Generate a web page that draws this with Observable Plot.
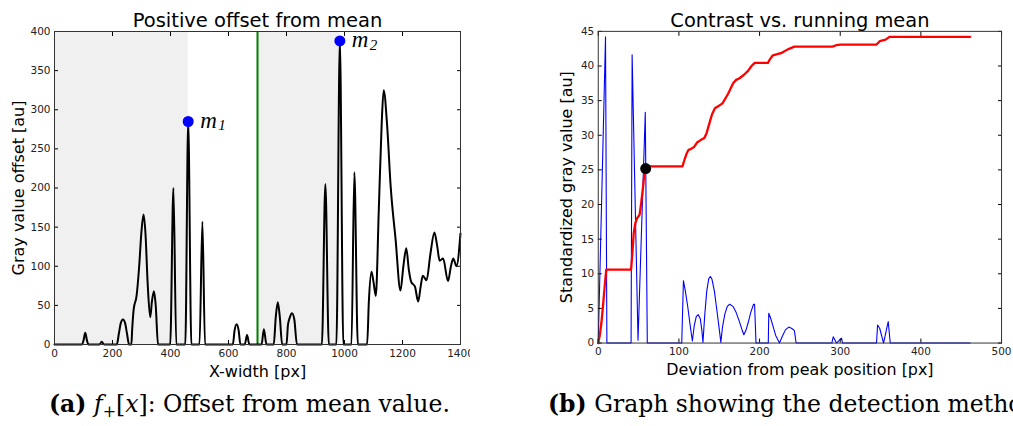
<!DOCTYPE html>
<html><head><meta charset="utf-8">
<script src="https://cdn.jsdelivr.net/npm/d3@7"></script>
<script src="https://cdn.jsdelivr.net/npm/@observablehq/plot@0.6"></script>
<style>
body{margin:0;background:#fff;width:1013px;height:426px;overflow:hidden;position:relative;font-family:"DejaVu Sans";}
#a{position:absolute;left:0;top:0;width:470px;height:392px;overflow:hidden}
#b{position:absolute;left:540px;top:0;width:473px;height:392px;overflow:hidden}
.cap{position:absolute;top:390px;font-family:"DejaVu Serif";font-size:23.5px;white-space:nowrap;color:#000}
.cap sub{font-size:16px;vertical-align:-5px;line-height:0}
</style></head><body>
<div id="a"></div><div id="b"></div>
<div class="cap" style="left:49px"><b>(a)</b> <i>f</i><sub>+</sub>[<i>x</i>]: Offset from mean value.</div>
<div class="cap" style="left:548px"><b>(b)</b> Graph showing the detection method.</div>
<script>
// ---------- Panel (a) data ----------
const offsetX = [0,95,100,106,112,117,155,163,171,215,222,229,236,243,250,257,265,268,273,283,292,300,307,314,321,330,336,343,349,357,399,410,420,451,461,472,500,510,519,615,621,628,635,641,656,664,672,714,722,731,756,763,770,777,785,800,805,811,819,827,836,922,934,946,972,984,996,1024,1034,1046,1078,1084,1093,1100,1108,1118,1128,1135,1147,1159,1176,1193,1203,1213,1222,1230,1243,1254,1263,1270,1283,1296,1310,1320,1328,1340,1357,1367,1375,1386,1400];
const offsetY = [0,0,5,15,5,0,0,3.5,0,0,14,28,32,28,14,0,0,20,45,62,100,145,166,140,80,35,55,68,50,0,0,200,0,0,285,0,0,157,0,0,18,26,18,0,0,12,0,0,19.6,0,0,35,54,35,0,0,25,34,40,32,0,0,205,0,0,388,0,0,220,0,0,55,93,80,62,169,280,325,280,203,135,69,100,123,95,80,74,55,75,88,82,115,143,125,107,110,81,100,110,100,142];
const shadeStart = [0, 700];
const shadeEnd = [461, 984];
const thresholdX = [700];
const markerX = [461, 984];
const markerY = [285, 388];
const markerSub = ["1", "2"];
const aXTicks = [0,200,400,600,800,1000,1200,1400];
const aYTicks = [0,50,100,150,200,250,300,350,400];

// ---------- Panel (b) data ----------
const contrastX = [0,9,10.7,40.7,42,49.3,58.3,60.8,103.5,105.6,108,111,114,116.7,119,121.5,124,126.5,128.5,129.8,132,134.5,137,139,141,144,147,150,152,154,157,160,163,167,171,175,178,180.5,183,186,189,192.5,193.8,195.6,210.8,211.4,214,217,220,224.7,228,232,236.2,240,243.2,245.3,289.6,291.3,295.4,301.6,302.8,345,346.3,349,353.7,359.5,362,461];
const contrastY = [0,44.2,0,0,41.6,0.4,33.3,0,0,9.0,7.5,5.2,2.5,0.3,2.5,3.8,4.1,3.5,1.8,0.1,4,7.5,9.3,9.6,9.2,7.5,4.8,2,0.1,2.3,4.2,5.3,5.6,5.3,4.4,3.1,2,1.2,1.8,3,4.4,5.6,5.6,0,0,4.3,3.5,2.3,1.1,0,0.9,1.9,2.3,2.1,1.8,0,0,0.9,0,0.7,0,0,2.6,2.1,0,3.1,0,0];
const meanX = [0,2,4,6,8,9.9,40.7,42,44,46,48,50,51.4,53,54.2,56,57.5,59,104.4,107,109.7,112,114.6,118.7,122.8,127,131.5,134.3,138.5,141,144.6,148.7,154,161,167.2,171,174.6,180.4,185.7,190,194,210.4,213,216.5,221.8,227.6,235,243.2,290.5,295,300.7,345,349.2,356.2,361,461];
const meanY = [0,1.2,3,5.5,8.2,10.6,10.6,12.5,15.9,17.3,18,18.3,18.6,20,21.2,23,25,25.5,25.5,26.5,27.4,27.9,28.0,28.3,29.0,29.3,29.6,30.3,32,33,33.9,34.2,34.6,36,37.5,38,38.2,38.7,39.3,40,40.45,40.45,41,41.55,41.7,41.9,42.4,42.8,42.8,43,43.1,43.1,43.6,43.8,44.2,44.2];
const detectX = [58.8];
const detectY = [25.2];
const bXTicks = [0,100,200,300,400,500];
const bYTicks = [0,5,10,15,20,25,30,35,40,45];

function zip(xs, ys) { return xs.map((x, i) => ({x, y: ys[i]})); }

function axesMarks(xt, yt) {
  const fmt = d => String(d);
  return [
    Plot.axisX(xt, {anchor: "bottom", tickSize: 0, tickPadding: 5, label: null, tickFormat: fmt}),
    Plot.axisX(xt, {anchor: "bottom", tickSize: 4, text: null, dy: -4, label: null, stroke: "#000"}),
    Plot.axisX(xt, {anchor: "top", tickSize: 4, text: null, dy: 4, label: null, stroke: "#000"}),
    Plot.axisY(yt, {anchor: "left", tickSize: 0, tickPadding: 4, label: null, tickFormat: fmt}),
    Plot.axisY(yt, {anchor: "left", tickSize: 4, text: null, dx: 4, label: null, stroke: "#000"}),
    Plot.axisY(yt, {anchor: "right", tickSize: 4, text: null, dx: -4, label: null, stroke: "#000"})
  ];
}
function labelMarks(title, xl, yl, ydx) {
  return [
    Plot.text([title], {text: d => d, frameAnchor: "top", dy: -10.5, textAnchor: "middle", lineAnchor: "middle", fontSize: 19.5, fill: "#000"}),
    Plot.text([xl], {text: d => d, frameAnchor: "bottom", dy: 27, textAnchor: "middle", lineAnchor: "middle", fontSize: 16, fill: "#000"}),
    Plot.text([yl], {text: d => d, frameAnchor: "left", dx: ydx, rotate: -90, textAnchor: "middle", lineAnchor: "middle", fontSize: 16, fill: "#000"})
  ];
}
const style = {fontFamily: "DejaVu Sans", fontSize: "10.5px", color: "#222", background: "white", overflow: "visible"};

const shades = shadeStart.map((s, i) => ({s, e: shadeEnd[i]}));
const markers = markerX.map((x, i) => ({x, y: markerY[i], sub: markerSub[i]}));

const chartA = Plot.plot({
  width: 470, height: 392,
  marginLeft: 54, marginRight: 10, marginTop: 31, marginBottom: 48,
  style,
  x: {domain: [0, 1400]},
  y: {domain: [0, 400]},
  marks: [
    Plot.rect(shades, {x1: "s", x2: "e", fill: "#f0f0f0"}),
    Plot.ruleX(thresholdX, {stroke: "#007f00", strokeWidth: 2}),
    Plot.line(zip(offsetX, offsetY), {x: "x", y: "y", stroke: "#000", strokeWidth: 2, curve: "monotone-x"}),
    Plot.dot(markers, {x: "x", y: "y", r: 5.5, fill: "#0000ff", stroke: null}),
    Plot.text(markers, {x: "x", y: "y", text: () => "m", dx: 12, dy: -1, textAnchor: "start", lineAnchor: "middle", fontFamily: "Liberation Serif", fontStyle: "italic", fontSize: 23, fill: "#000"}),
    Plot.text(markers, {x: "x", y: "y", text: "sub", dx: 30, dy: 4, textAnchor: "start", lineAnchor: "middle", fontFamily: "Liberation Serif", fontStyle: "italic", fontSize: 15, fill: "#000"}),
    ...axesMarks(aXTicks, aYTicks),
    ...labelMarks("Positive offset from mean", "X-width [px]", "Gray value offset [au]", -36),
    Plot.frame({stroke: "#333", strokeWidth: 1})
  ]
});
document.getElementById("a").append(chartA);

const chartB = Plot.plot({
  width: 475, height: 392,
  marginLeft: 58, marginRight: 12, marginTop: 31, marginBottom: 48,
  style,
  x: {domain: [0, 500]},
  y: {domain: [0, 45]},
  marks: [
    Plot.line(zip(contrastX, contrastY), {x: "x", y: "y", stroke: "#0000ff", strokeWidth: 1.1}),
    Plot.line(zip(meanX, meanY), {x: "x", y: "y", stroke: "#ff0000", strokeWidth: 2.3}),
    Plot.dot(zip(detectX, detectY), {x: "x", y: "y", r: 5.5, fill: "#000", stroke: null}),
    ...axesMarks(bXTicks, bYTicks),
    ...labelMarks("Contrast vs. running mean", "Deviation from peak position [px]", "Standardized gray value [au]", -31),
    Plot.frame({stroke: "#333", strokeWidth: 1})
  ]
});
document.getElementById("b").append(chartB);
</script>
</body></html>
